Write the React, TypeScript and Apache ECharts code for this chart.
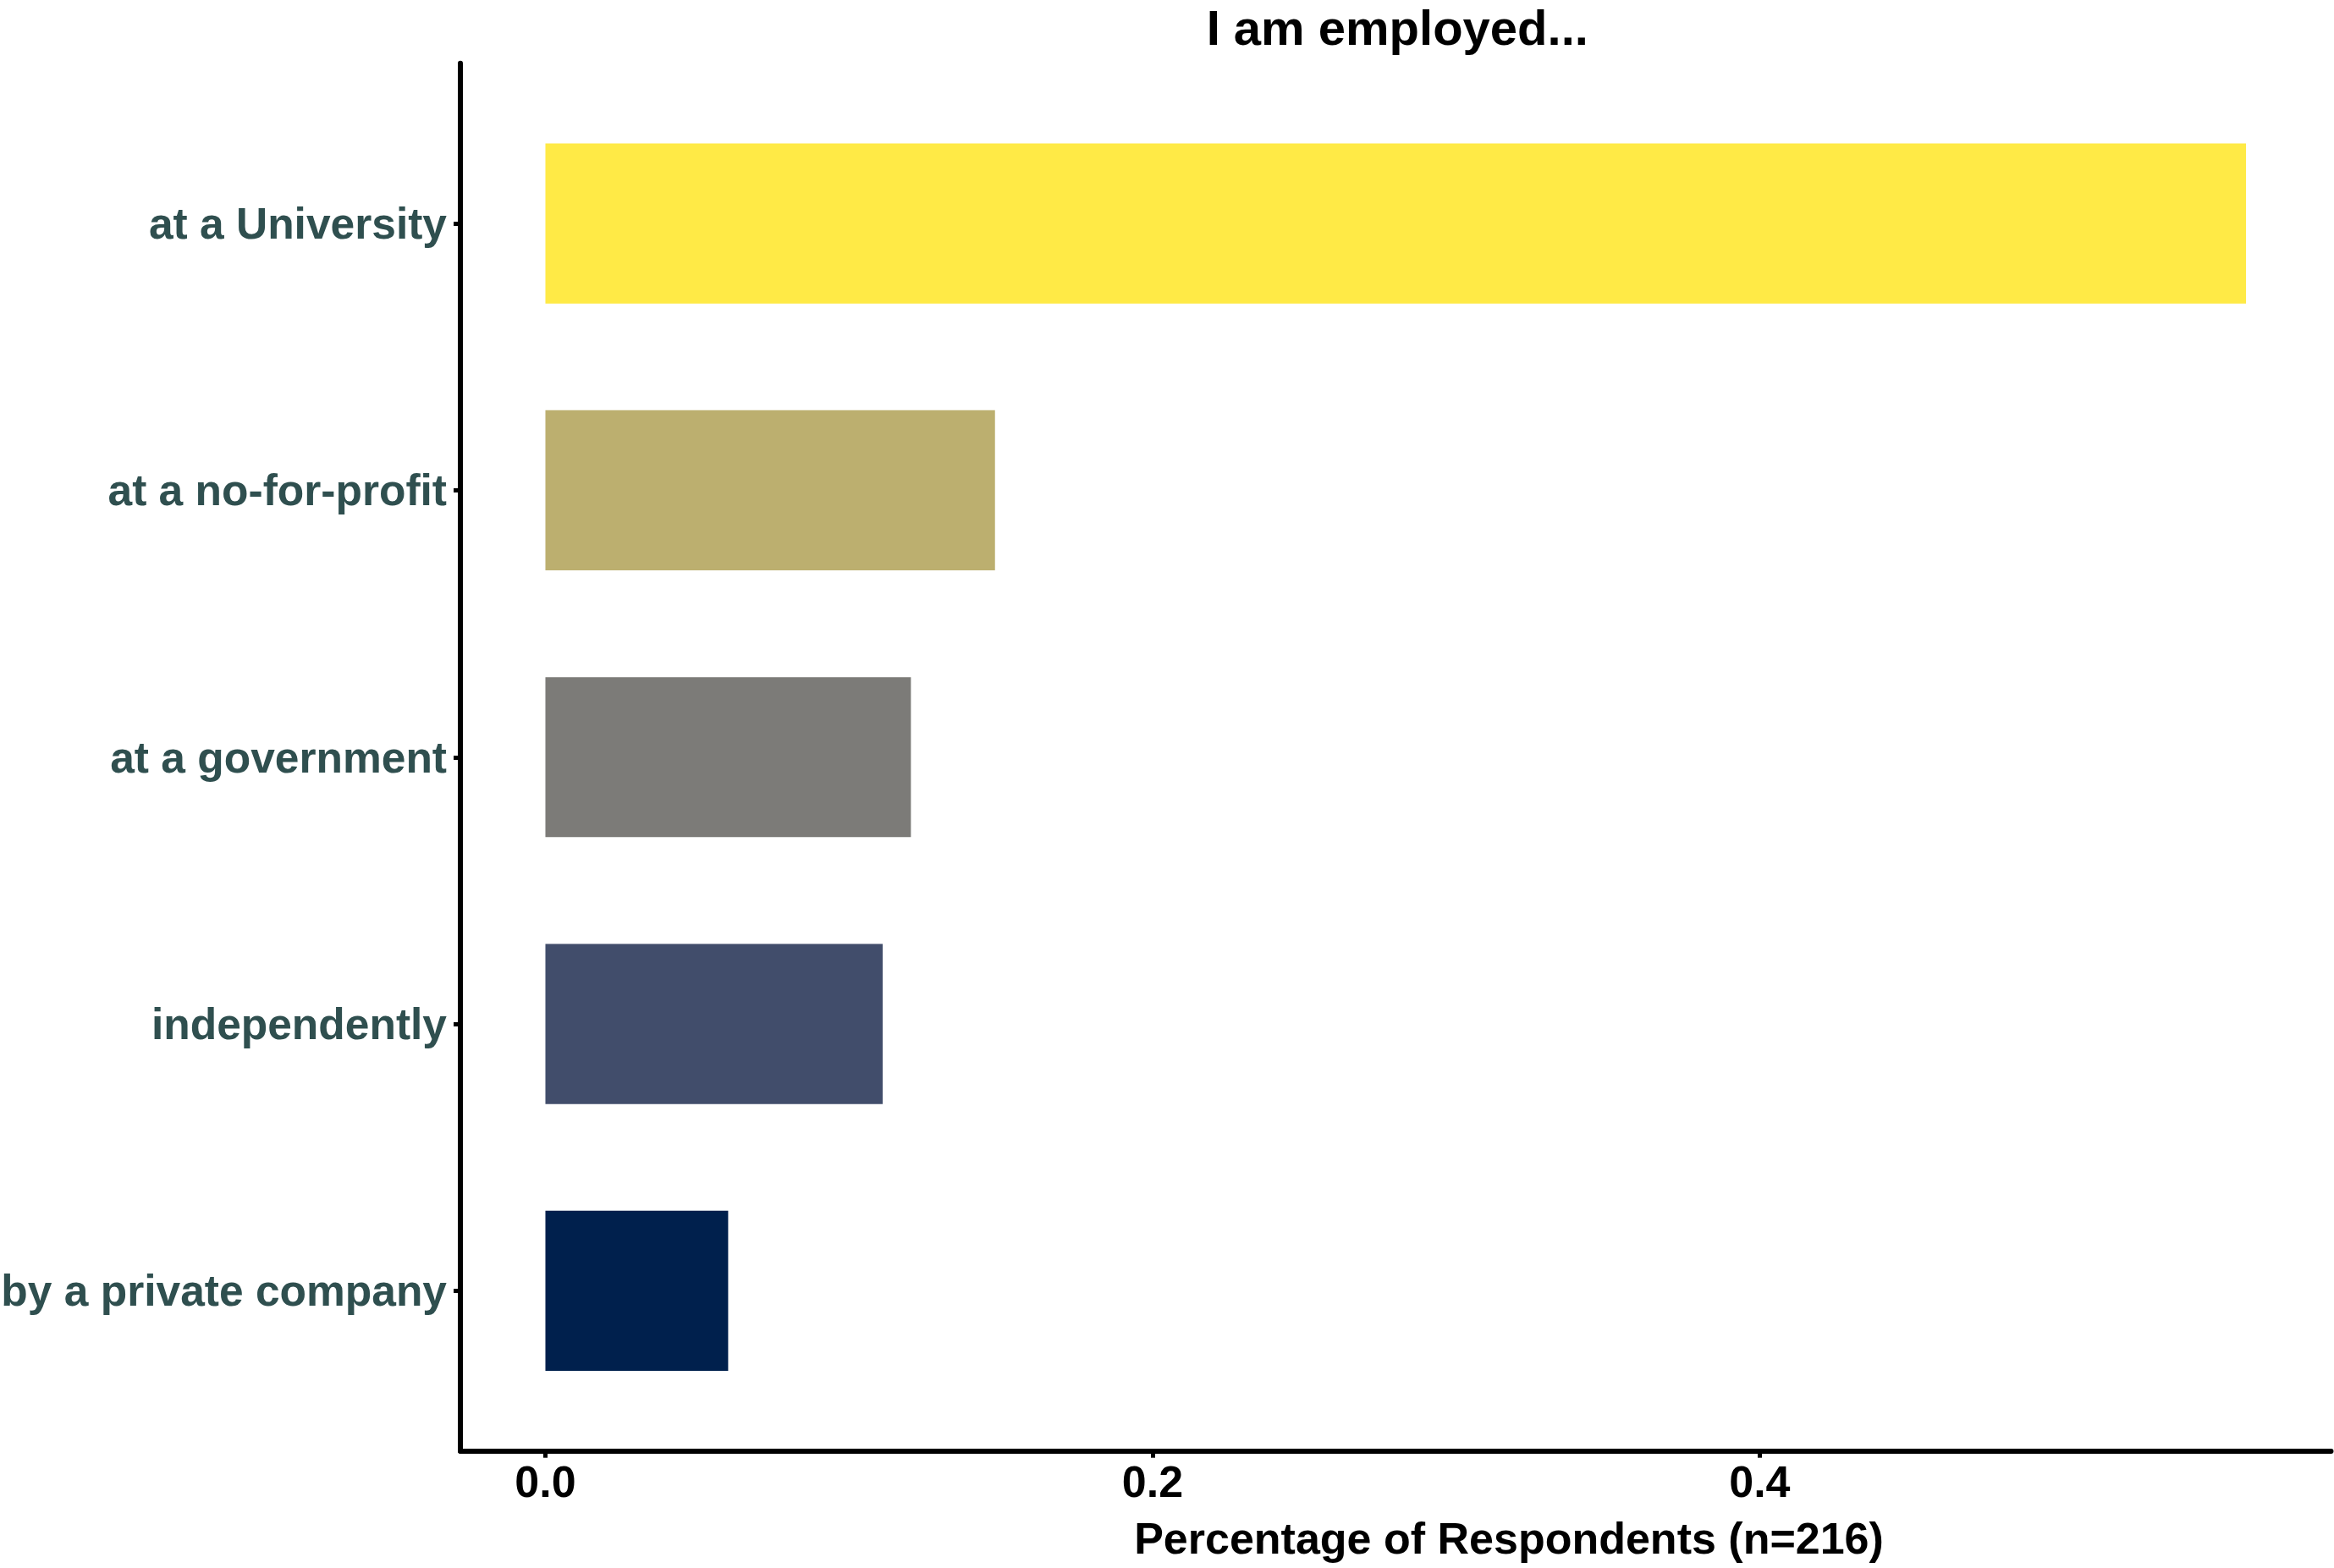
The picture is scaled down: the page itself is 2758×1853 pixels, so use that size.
import React, { useEffect, useRef } from "react";
import * as echarts from "echarts";

const categories = [
  "by a private company",
  "independently",
  "at a government",
  "at a no-for-profit",
  "at a University",
];
const shares = [0.0602, 0.1111, 0.1204, 0.1481, 0.5602];
const barColors = ["#00204D", "#414D6B", "#7C7B78", "#BCAF6F", "#FFEA46"];
const xTicks = [0, 0.2, 0.4];
const titleText = "I am employed...";
const xTitle = "Percentage of Respondents (n=216)";

const FONT = "'Liberation Sans', Arial, sans-serif";

export default function App() {
  const ref = useRef<HTMLDivElement>(null);

  useEffect(() => {
    if (!ref.current) return;
    const chart = echarts.init(ref.current, undefined, { renderer: "svg" });
    const maxV = Math.max(...shares);
    const xMin = -maxV * 0.05;
    const xMax = maxV * 1.05;
    const W = 2758;
    const H = 1853;
    const panelLeft = 544;
    const panelRight = 2754.5;
    const panelTop = 74.8;
    const panelBottom = 1714.7;
    const unit = (panelBottom - panelTop) / (categories.length + 0.2);
    const bandTop = panelTop + 0.1 * unit;
    const bandBottom = panelBottom - 0.1 * unit;

    chart.setOption({
      animation: false,
      backgroundColor: "#ffffff",
      title: [
        {
          text: titleText,
          left: (panelLeft + panelRight) / 2 - 3,
          top: -2,
          textAlign: "center",
          textStyle: {
            fontFamily: FONT,
            fontWeight: "bold",
            fontSize: 58,
            color: "#000000",
          },
        },
        {
          text: xTitle,
          left: 1778,
          top: 1787,
          textAlign: "center",
          textStyle: {
            fontFamily: FONT,
            fontWeight: "bold",
            fontSize: 52,
            color: "#000000",
          },
        },
      ],
      grid: [
        {
          left: panelLeft,
          right: W - panelRight,
          top: bandTop,
          bottom: H - bandBottom,
          containLabel: false,
          outerBoundsMode: "none",
        },
        {
          left: panelLeft,
          right: W - panelRight,
          top: panelTop,
          bottom: H - panelBottom,
          containLabel: false,
          outerBoundsMode: "none",
        },
      ],
      xAxis: [
        {
          type: "value",
          gridIndex: 0,
          min: xMin,
          max: xMax,
          show: false,
        },
        {
          type: "value",
          gridIndex: 1,
          min: xMin,
          max: xMax,
          axisLine: {
            show: true,
            onZero: false,
            lineStyle: { color: "#000000", width: 6 },
          },
          axisTick: {
            show: true,
            length: 8,
            customValues: xTicks,
            lineStyle: { color: "#000000", width: 5 },
          },
          axisLabel: {
            show: true,
            customValues: xTicks,
            formatter: (v: number) => v.toFixed(1),
            margin: 10,
            fontFamily: FONT,
            fontWeight: "bold",
            fontSize: 52,
            color: "#000000",
          },
          splitLine: { show: false },
        },
      ],
      yAxis: [
        {
          type: "category",
          gridIndex: 0,
          data: categories,
          axisLine: { show: false, onZero: false },
          axisTick: {
            show: true,
            alignWithLabel: true,
            length: 8,
            lineStyle: { color: "#000000", width: 5 },
          },
          axisLabel: {
            margin: 16,
            fontFamily: FONT,
            fontWeight: "bold",
            fontSize: 51.5,
            color: "#2F4F4F",
          },
          splitLine: { show: false },
        },
        {
          type: "value",
          gridIndex: 1,
          min: 0,
          max: 1,
          axisLine: {
            show: true,
            onZero: false,
            lineStyle: { color: "#000000", width: 6 },
          },
          axisTick: { show: false },
          axisLabel: { show: false },
          splitLine: { show: false },
        },
      ],
      series: [
        {
          type: "bar",
          xAxisIndex: 0,
          yAxisIndex: 0,
          barCategoryGap: "40%",
          data: shares.map((v, i) => ({
            value: v,
            itemStyle: { color: barColors[i] },
          })),
        },
      ],
    });

    return () => {
      chart.dispose();
    };
  }, []);

  return (
    <div
      ref={ref}
      style={{
        position: "absolute",
        left: 0,
        top: 0,
        width: 2758,
        height: 1853,
        background: "#ffffff",
      }}
    />
  );
}
